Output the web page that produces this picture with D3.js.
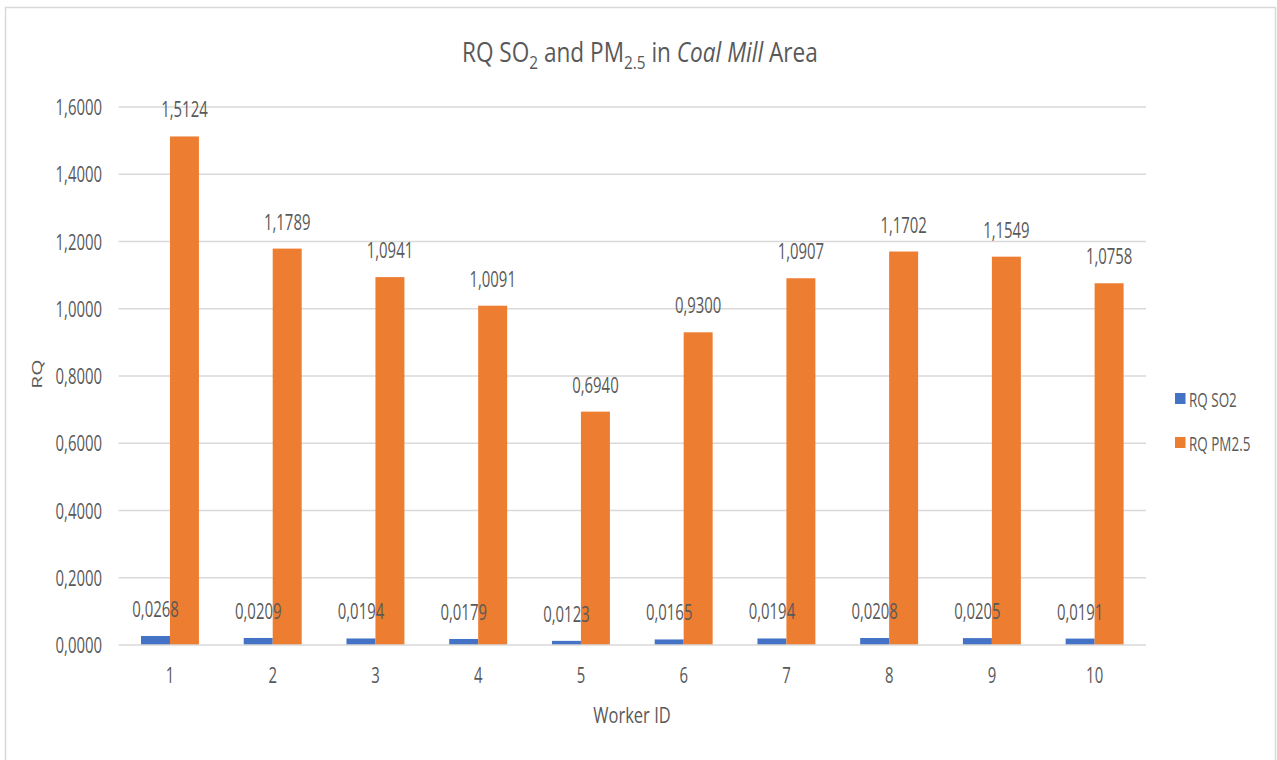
<!DOCTYPE html>
<html>
<head>
<meta charset="utf-8">
<script src="https://cdn.jsdelivr.net/npm/d3@7"></script>
<style>
  html, body { margin: 0; padding: 0; background: #fff; }
  svg { display: block; }
  text { font-family: "Open Sans", "Noto Sans", sans-serif; fill: #595959; }
</style>
</head>
<body>
<svg id="chart" width="1277" height="760"></svg>
<script>
const categories = ["1", "2", "3", "4", "5", "6", "7", "8", "9", "10"];
const seriesNames = ["RQ SO2", "RQ PM2.5"];
const so2Values = [0.0268, 0.0209, 0.0194, 0.0179, 0.0123, 0.0165, 0.0194, 0.0208, 0.0205, 0.0191];
const pm25Values = [1.5124, 1.1789, 1.0941, 1.0091, 0.6940, 0.9300, 1.0907, 1.1702, 1.1549, 1.0758];
const yTicks = [0, 0.2, 0.4, 0.6, 0.8, 1.0, 1.2, 1.4, 1.6];
const colors = ["#4472C4", "#ED7D31"];

const SX = 0.71; // horizontal squeeze of the lettering
const svg = d3.select("#chart");
const fmt = v => d3.format(".4f")(v).replace(".", ",");

// move x/y into a transform so the text can be squeezed horizontally
function squeeze(sel, sx) {
  sel.each(function () {
    const t = d3.select(this);
    const x = +t.attr("x") || 0, yv = +t.attr("y") || 0;
    t.attr("x", 0).attr("y", 0).attr("transform", `translate(${x},${yv}) scale(${sx},1)`);
  });
}

// chart border
svg.append("rect").attr("x", 5.5).attr("y", 7.5).attr("width", 1270).attr("height", 760)
  .attr("fill", "#fff").attr("stroke", "#D9D9D9").attr("stroke-width", 1.5);

const plot = { left: 118.6, right: 1146, top: 107, bottom: 645 };

const x0 = d3.scaleBand().domain(categories).range([plot.left, plot.right])
  .paddingInner(0.436).paddingOuter(0.218);
const x1 = d3.scaleBand().domain(seriesNames).range([0, x0.bandwidth()]);
const y = d3.scaleLinear().domain([0, 1.6]).range([plot.bottom, plot.top]);

// gridlines
svg.append("g").selectAll("line").data(yTicks.slice(1)).join("line")
  .attr("x1", plot.left).attr("x2", plot.right)
  .attr("y1", d => y(d)).attr("y2", d => y(d))
  .attr("stroke", "#D9D9D9").attr("stroke-width", 1.5);

// y axis labels
const yAxis = d3.axisLeft(y).tickValues(yTicks).tickFormat(fmt).tickSize(0).tickPadding(0);
const gy = svg.append("g").attr("transform", `translate(102,0)`).call(yAxis);
gy.select(".domain").remove();
gy.selectAll("text").attr("font-size", 21).attr("dy", "0.36em").style("fill", "#595959")
  .style("font-family", "'Open Sans', sans-serif").attr("x", 0);
squeeze(gy.selectAll("text"), SX);

// bars
const data = categories.map((c, i) => ({ cat: c, vals: [so2Values[i], pm25Values[i]] }));
const groups = svg.append("g").selectAll("g").data(data).join("g")
  .attr("transform", d => `translate(${x0(d.cat)},0)`);
groups.selectAll("rect").data(d => d.vals.map((v, j) => ({ name: seriesNames[j], v, j }))).join("rect")
  .attr("x", d => x1(d.name)).attr("width", x1.bandwidth())
  .attr("y", d => y(d.v)).attr("height", d => y(0) - y(d.v))
  .attr("fill", d => colors[d.j]);

// x axis line
svg.append("line").attr("x1", plot.left).attr("x2", plot.right)
  .attr("y1", y(0)).attr("y2", y(0)).attr("stroke", "#D9D9D9").attr("stroke-width", 1.5);

// data labels
const lbl = groups.selectAll("text.lbl").data(d => d.vals.map((v, j) => ({ name: seriesNames[j], v, j }))).join("text")
  .attr("class", "lbl")
  .attr("x", d => x1(d.name) + x1.bandwidth() / 2)
  .attr("y", d => y(d.v) - 19)
  .attr("text-anchor", "middle").attr("font-size", 21)
  .text(d => fmt(d.v));
squeeze(lbl, SX);

// x axis labels
const xAxis = d3.axisBottom(x0).tickSize(0).tickPadding(0);
const gx = svg.append("g").attr("transform", `translate(0,${y(0) + 38})`).call(xAxis);
gx.select(".domain").remove();
gx.selectAll("text").attr("font-size", 21).attr("dy", 0).style("fill", "#595959")
  .style("font-family", "'Open Sans', sans-serif");
squeeze(gx.selectAll("text"), SX);

// axis titles
const xt = svg.append("text").attr("x", 632).attr("y", 723)
  .attr("text-anchor", "middle").attr("font-size", 22).text("Worker ID");
squeeze(xt, 0.75);
svg.append("text").attr("transform", `translate(42,374) scale(${SX},1) rotate(-90)`)
  .attr("text-anchor", "middle").attr("font-size", 21).text("RQ");

// title
const title = svg.append("text").attr("x", 0).attr("y", 0).attr("text-anchor", "start").attr("font-size", 26.5);
title.append("tspan").text("RQ SO");
title.append("tspan").attr("font-size", 18).attr("dy", 7).text("2");
title.append("tspan").attr("dy", -7).text(" and PM");
title.append("tspan").attr("font-size", 18).attr("dy", 7).text("2.5");
title.append("tspan").attr("dy", -7).text(" in ");
title.append("tspan").attr("font-style", "italic").text("Coal Mill");
title.append("tspan").text(" Area");
const tw = title.node().getComputedTextLength();
const tsx = 356 / tw;
title.attr("transform", `translate(462,62) scale(${tsx},1)`);

// legend
const legend = svg.append("g").selectAll("g").data(seriesNames).join("g")
  .attr("transform", (d, i) => `translate(1175,${393 + i * 44})`);
legend.append("rect").attr("x", 0).attr("y", 0).attr("width", 10.5).attr("height", 11)
  .attr("fill", (d, i) => colors[i]);
const lt = legend.append("text").attr("x", 14).attr("y", 13.5).attr("font-size", 19.5).text(d => d);
squeeze(lt, 0.69);
</script>
</body>
</html>
